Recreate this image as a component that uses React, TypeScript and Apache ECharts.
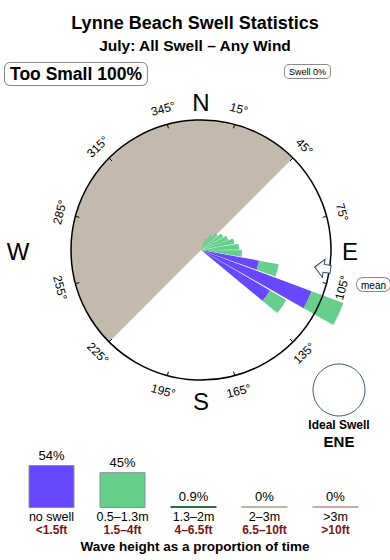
import React, { useEffect, useRef } from 'react';
import * as echarts from 'echarts';

const FONT = '"Liberation Sans", Arial, Helvetica, sans-serif';

// ---- Swell rose data: 36 direction bins of 10°, centre bearing of each bin ----
const binBearings = [5, 15, 25, 35, 45, 55, 65, 75, 85, 95, 105, 115, 125, 135, 145, 155, 165, 175,
  185, 195, 205, 215, 225, 235, 245, 255, 265, 275, 285, 295, 305, 315, 325, 335, 345, 355];
// "no swell" (<1.5ft) share by direction (relative length)
const noSwellRose = [0, 0, 0, 0, 0, 0, 0, 0, 0, 0, 5.9, 11.8, 8.0, 0, 0, 0, 0, 0,
  0, 0, 0, 0, 0, 0, 0, 0, 0, 0, 0, 0, 0, 0, 0, 0, 0, 0];
// 0.5–1.3m (1.5–4ft) share by direction (relative length)
const smallSwellRose = [0, 0, 1.3, 1.8, 2.2, 2.6, 2.9, 3.4, 3.8, 4.1, 2.0, 3.4, 1.9, 0, 0, 0, 0, 0,
  0, 0, 0, 0, 0, 0, 0, 0, 0, 0, 0, 0, 0, 0, 0, 0, 0, 0];
const roseMax = 16;

// ---- Compass annotation ----
const degreeTicks = [15, 45, 75, 105, 135, 165, 195, 225, 255, 285, 315, 345];
const compassLetters = ['N', 'E', 'S', 'W'];
const compassBearings = [0, 90, 180, 270];
const landFrom = 225; // shadowed sector (land) from this bearing clockwise...
const landTo = 45;    // ...to this bearing
const meanBearing = 98.5;
const idealSwell = 'ENE';

// ---- Wave height legend ----
const heightClasses = ['no swell', '0.5–1.3m', '1.3–2m', '2–3m', '>3m'];
const heightFeet = ['<1.5ft', '1.5–4ft', '4–6.5ft', '6.5–10ft', '>10ft'];
const heightShare = [54, 45, 0.9, 0, 0];
const heightColors = ['#6748fc', '#66cf8b', '#2f6e3c', '#b9b9a1', '#c9aaa8'];

const CX = 201;
const CY = 250;
const R = 130;

function polarPt(bearing: number, r: number): [number, number] {
  const a = (bearing * Math.PI) / 180;
  return [CX + r * Math.sin(a), CY - r * Math.cos(a)];
}

function labelRotation(bearing: number): number {
  let b = bearing > 180 ? bearing - 360 : bearing;
  let rot = b;
  if (Math.abs(b) > 90) rot = b > 0 ? b - 180 : b + 180;
  return (-rot * Math.PI) / 180;
}

function txt(x: number, y: number, text: string, font: string, extra: any = {}, rotation = 0) {
  return {
    type: 'text',
    x,
    y,
    rotation,
    z: 30,
    style: {
      text,
      font,
      fill: '#000',
      textAlign: 'center',
      textVerticalAlign: 'middle',
      align: 'center',
      verticalAlign: 'middle',
      ...extra,
    },
  };
}

export default function App() {
  const ref = useRef<HTMLDivElement>(null);

  useEffect(() => {
    if (!ref.current) return;
    const chart = echarts.init(ref.current, undefined, { renderer: 'svg' });

    const graphics: any[] = [];

    // land / shadow sector
    graphics.push({
      type: 'sector',
      z: 1,
      shape: {
        cx: CX,
        cy: CY,
        r: R,
        r0: 0,
        startAngle: ((landFrom - 90) * Math.PI) / 180,
        endAngle: ((landTo - 90 + 360) * Math.PI) / 180,
        clockwise: true,
      },
      style: { fill: '#c4b9ad' },
    });

    // degree labels
    degreeTicks.forEach((d) => {
      const [x, y] = polarPt(d, 146);
      graphics.push(txt(x, y, d + '°', `12px ${FONT}`, {}, labelRotation(d)));
    });

    // compass letters
    const letterRadii = [149, 149, 150, 183];
    compassLetters.forEach((l, i) => {
      const [x, y] = polarPt(compassBearings[i], letterRadii[i]);
      graphics.push(txt(x, y + 1, l, `24px ${FONT}`));
    });

    // mean direction arrow (points toward the centre)
    const [tx, ty] = polarPt(meanBearing, 115);
    graphics.push({
      type: 'polygon',
      x: tx,
      y: ty,
      rotation: (-(meanBearing - 90) * Math.PI) / 180,
      z: 40,
      shape: {
        points: [[0, 0], [9, -9], [9, -4], [16, -4], [16, 4], [9, 4], [9, 9]],
      },
      style: { fill: '#fff', stroke: '#2c4a6e', lineWidth: 1 },
    });

    // boxed labels
    const boxStyle = {
      backgroundColor: '#fff',
      borderColor: '#8a8a8a',
      borderWidth: 1,
      borderRadius: 5,
    };
    graphics.push({
      type: 'text',
      x: 5,
      y: 63,
      z: 30,
      style: {
        text: 'Too Small 100%',
        font: `bold 17.5px ${FONT}`,
        fill: '#000',
        padding: [2, 5, 2, 5],
        ...boxStyle,
      },
    });
    graphics.push({
      type: 'text',
      x: 285,
      y: 65,
      z: 30,
      style: {
        text: 'Swell 0%',
        font: `9px ${FONT}`,
        fill: '#000',
        padding: [2, 4, 2, 4],
        ...boxStyle,
        borderRadius: 4,
      },
    });
    graphics.push({
      type: 'text',
      x: 357,
      y: 278,
      z: 30,
      style: {
        text: 'mean',
        font: `10px ${FONT}`,
        fill: '#000',
        padding: [2, 4, 1, 4],
        ...boxStyle,
        borderRadius: 6,
      },
    });

    // ideal swell
    graphics.push({
      type: 'circle',
      z: 30,
      shape: { cx: 339, cy: 390, r: 26 },
      style: { fill: 'none', stroke: '#3d5a80', lineWidth: 1 },
    });
    graphics.push(txt(339, 425, 'Ideal Swell', `bold 12px ${FONT}`));
    graphics.push(txt(339, 441, idealSwell, `bold 15px ${FONT}`));

    // legend caption
    graphics.push(txt(195, 546, 'Wave height as a proportion of time', `bold 13.5px ${FONT}`));

    const option: any = {
      animation: false,
      title: {
        text: 'Lynne Beach Swell Statistics',
        subtext: 'July: All Swell – Any Wind',
        left: 'center',
        top: 9,
        itemGap: 5,
        textStyle: { fontFamily: FONT, fontSize: 18, fontWeight: 'bold', color: '#000' },
        subtextStyle: { fontFamily: FONT, fontSize: 15.5, fontWeight: 'bold', color: '#000' },
      },
      polar: [
        { center: [CX, CY], radius: R },
        { center: [CX, CY], radius: (R * roseMax) / 13 },
      ],
      angleAxis: [
        {
          polarIndex: 0,
          type: 'value',
          min: -15,
          max: 345,
          interval: 30,
          startAngle: 105,
          clockwise: true,
          z: 20,
          axisLine: { show: true, lineStyle: { color: '#000', width: 1.5 } },
          axisTick: { show: true, inside: true, length: 4, lineStyle: { color: '#000', width: 1 } },
          axisLabel: { show: false },
          splitLine: { show: false },
          splitArea: { show: false },
        },
        {
          polarIndex: 1,
          type: 'category',
          data: binBearings.map(String),
          startAngle: 90,
          clockwise: true,
          boundaryGap: true,
          axisLine: { show: false },
          axisTick: { show: false },
          axisLabel: { show: false },
          splitLine: { show: false },
          splitArea: { show: false },
        },
      ],
      radiusAxis: [
        {
          polarIndex: 0,
          type: 'value',
          min: 0,
          max: 1,
          show: false,
          axisLine: { show: false },
          axisTick: { show: false },
          axisLabel: { show: false },
          splitLine: { show: false },
        },
        {
          polarIndex: 1,
          type: 'value',
          min: 0,
          max: roseMax,
          show: false,
          axisLine: { show: false },
          axisTick: { show: false },
          axisLabel: { show: false },
          splitLine: { show: false },
        },
      ],
      grid: { left: 16, width: 355, top: 465, height: 43 },
      xAxis: {
        type: 'category',
        data: heightClasses,
        axisLine: { show: false },
        axisTick: { show: false },
        axisLabel: {
          margin: 2,
          interval: 0,
          formatter: (v: string, i: number) => `{a|${v}}\n{b|${heightFeet[i]}}`,
          rich: {
            a: { fontFamily: FONT, fontSize: 12.5, color: '#000', lineHeight: 13.5 },
            b: { fontFamily: FONT, fontSize: 12, fontWeight: 'bold', color: '#7a1616', lineHeight: 13.5 },
          },
        },
      },
      yAxis: { type: 'value', min: 0, max: 54, show: false },
      series: [
        {
          name: 'no swell',
          type: 'bar',
          coordinateSystem: 'polar',
          polarIndex: 1,
          stack: 'rose',
          data: noSwellRose,
          barCategoryGap: '8%',
          itemStyle: { color: heightColors[0] },
          z: 5,
        },
        {
          name: '0.5–1.3m',
          type: 'bar',
          coordinateSystem: 'polar',
          polarIndex: 1,
          stack: 'rose',
          data: smallSwellRose,
          barCategoryGap: '8%',
          itemStyle: { color: heightColors[1] },
          z: 5,
        },
        {
          name: 'height share',
          type: 'bar',
          xAxisIndex: 0,
          yAxisIndex: 0,
          barWidth: 46,
          barMinHeight: 2,
          data: heightShare.map((v, i) => ({
            value: v,
            itemStyle: {
              color: heightColors[i],
              borderColor: i < 2 ? '#8d8d8d' : heightColors[i],
              borderWidth: i < 2 ? 1 : 0,
            },
          })),
          label: {
            show: true,
            position: 'top',
            distance: 3,
            formatter: (p: any) => `${p.value}%`,
            fontFamily: FONT,
            fontSize: 13,
            color: '#000',
          },
        },
      ],
      graphic: graphics,
    };

    chart.setOption(option);
    return () => chart.dispose();
  }, []);

  return (
    <div
      ref={ref}
      style={{ position: 'fixed', left: 0, top: 0, width: 390, height: 560, background: '#fff' }}
    />
  );
}
